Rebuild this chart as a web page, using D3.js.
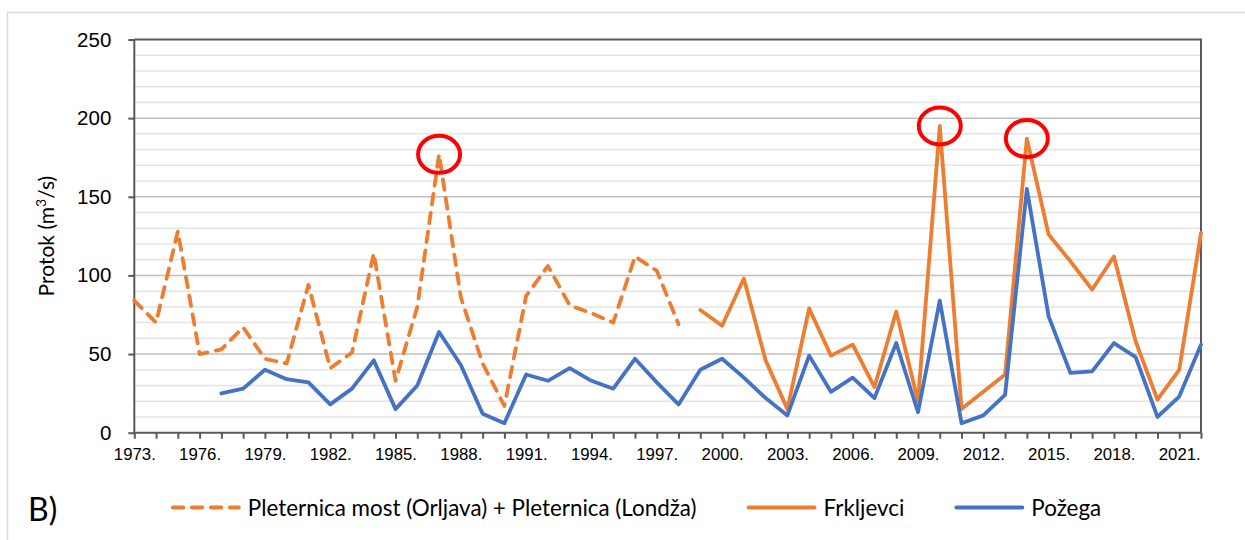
<!DOCTYPE html>
<html>
<head>
<meta charset="utf-8">
<script src="https://cdn.jsdelivr.net/npm/d3@7"></script>
<style>
    body { margin: 0; background: #fff; }
    svg { display: block; font-family: Lato, "Open Sans", sans-serif; }
</style>
</head>
<body>
<svg id="chart" width="1245" height="540"></svg>
<script>
"use strict"

// categories: one per year, 1973. - 2022.
const years = d3.range(1973, 2023);
const yearLabelStep = 3;
const yTicks = [0, 50, 100, 150, 200, 250];

// series values (m3/s), null where the station has no data
const pleternica = [84, 70, 128, 50, 53, 67, 47, 44, 94, 41, 51, 114, 33, 80, 177, 86, 44, 17, 87, 106,
    81, 76, 70, 112, 103, 69, null, null, null, null, null, null, null, null, null, null, null, null, null, null,
    null, null, null, null, null, null, null, null, null, null];
const frkljevci = [null, null, null, null, null, null, null, null, null, null, null, null, null, null, null, null, null, null, null, null,
    null, null, null, null, null, null, 78, 68, 98, 46, 15, 79, 49, 56, 29, 77, 20, 195, 15, 26,
    37, 187, 126, 109, 91, 112, 58, 21, 40, 127];
const pozega = [null, null, null, null, 25, 28, 40, 34, 32, 18, 28, 46, 15, 30, 64, 43, 12, 6, 37, 33,
    41, 33, 28, 47, 32, 18, 40, 47, 35, 22, 11, 49, 26, 35, 22, 57, 13, 84, 6, 11,
    24, 155, 74, 38, 39, 57, 48, 10, 23, 56];

const seriesNames = ["Pleternica most (Orljava) + Pleternica (Londža)", "Frkljevci", "Požega"];
const highlightYears = [1987, 2010, 2014];

//-----------------------------SETUP----------------------------//
const series = [
    { name: seriesNames[0], values: pleternica, color: "#ED7D31", dash: "10.5,8.5" },
    { name: seriesNames[1], values: frkljevci, color: "#ED7D31", dash: null },
    { name: seriesNames[2], values: pozega, color: "#4472C4", dash: null }
];

const plot = { left: 134.3, right: 1201, top: 39.5, bottom: 432.7 };
const svg = d3.select("#chart");

// outer chart border (continues past the right and bottom edge)
svg.append("rect")
    .attr("x", 7.5).attr("y", 12.5)
    .attr("width", 1300).attr("height", 600)
    .attr("fill", "#fff")
    .attr("stroke", "#D9D9D9")
    .attr("stroke-width", 1.5);

//----------------------------SCALES----------------------------//
const xScale = d3.scalePoint().domain(years).range([plot.left, plot.right]);
const yScale = d3.scaleLinear().domain([0, 250]).range([plot.bottom, plot.top]);

//---------------------------GRIDLINES--------------------------//
const minor = d3.range(10, 250, 10).filter(v => v % 50 !== 0);
svg.append("g").selectAll("line")
    .data(minor)
    .join("line")
    .attr("x1", plot.left).attr("x2", plot.right)
    .attr("y1", d => yScale(d)).attr("y2", d => yScale(d))
    .attr("stroke", "#E4E4E4")
    .attr("stroke-width", 1.5);

svg.append("g").selectAll("line")
    .data(yTicks.filter(v => v > 0 && v < 250))
    .join("line")
    .attr("x1", plot.left).attr("x2", plot.right)
    .attr("y1", d => yScale(d)).attr("y2", d => yScale(d))
    .attr("stroke", "#BFBFBF")
    .attr("stroke-width", 1.5);

// plot area frame (top + right)
svg.append("path")
    .attr("d", `M${plot.left},${yScale(250)}H${plot.right}V${plot.bottom}`)
    .attr("fill", "none")
    .attr("stroke", "#595959")
    .attr("stroke-width", 2);

//-----------------------------AXES-----------------------------//
const xaxis = d3.axisBottom(xScale)
    .tickSize(6)
    .tickPadding(9)
    .tickFormat(d => ((d - years[0]) % yearLabelStep === 0 ? d + "." : ""));

const yaxis = d3.axisLeft(yScale)
    .tickValues(yTicks)
    .tickSize(6)
    .tickPadding(17);

const xaxisEl = svg.append("g")
    .attr("transform", `translate(0,${plot.bottom})`)
    .call(xaxis);
xaxisEl.select(".domain").attr("d", `M${plot.left},0H${plot.right}`);
xaxisEl.selectAll("line").attr("stroke", "#595959").attr("stroke-width", 2);
xaxisEl.select(".domain").attr("stroke", "#595959").attr("stroke-width", 2);
xaxisEl.selectAll("text")
    .attr("fill", "#000")
    .style("font-size", "16.8px");

const yaxisEl = svg.append("g")
    .attr("transform", `translate(${plot.left},0)`)
    .call(yaxis);
yaxisEl.select(".domain").attr("d", `M0,${plot.top}V${plot.bottom}`);
yaxisEl.selectAll("line").attr("stroke", "#595959").attr("stroke-width", 2);
yaxisEl.select(".domain").attr("stroke", "#595959").attr("stroke-width", 2);
yaxisEl.selectAll("text")
    .attr("fill", "#000")
    .style("font-size", "20.5px");

// y axis title
const title = svg.append("text")
    .attr("transform", `translate(54,${(plot.top + plot.bottom) / 2}) rotate(-90)`)
    .attr("text-anchor", "middle")
    .attr("fill", "#000")
    .style("font-size", "21px");
title.append("tspan").text("Protok (m");
title.append("tspan").attr("dy", -8).style("font-size", "14px").text("3");
title.append("tspan").attr("dy", 8).text("/s)");

//-----------------------------LINES----------------------------//
const line = d3.line()
    .defined(d => d.v != null)
    .x(d => xScale(d.year))
    .y(d => yScale(d.v));

series.forEach(s => {
    svg.append("path")
        .datum(years.map((year, i) => ({ year, v: s.values[i] })))
        .attr("d", line)
        .attr("fill", "none")
        .attr("stroke", s.color)
        .attr("stroke-width", 3.8)
        .attr("stroke-linejoin", "round")
        .attr("stroke-linecap", "round")
        .attr("stroke-dasharray", s.dash);
});

// red rings around the three peaks
svg.append("g").selectAll("ellipse")
    .data(highlightYears)
    .join("ellipse")
    .attr("cx", d => xScale(d))
    .attr("cy", d => {
        const i = years.indexOf(d);
        return yScale(d3.max(series, s => s.values[i]));
    })
    .attr("rx", 21)
    .attr("ry", 18.5)
    .attr("fill", "none")
    .attr("stroke", "#FF0000")
    .attr("stroke-width", 4);

//----------------------------LEGEND----------------------------//
svg.append("text")
    .attr("x", 28).attr("y", 521)
    .attr("fill", "#000")
    .style("font-size", "32px")
    .text("B)");

const legendY = 507.5;
const legend = svg.append("g");
let lx = 0;
series.forEach((s, i) => {
    const item = legend.append("g").attr("transform", `translate(${lx},0)`);
    item.append("line")
        .attr("x1", 2).attr("x2", 68)
        .attr("y1", legendY).attr("y2", legendY)
        .attr("stroke", s.color)
        .attr("stroke-width", 3.8)
        .attr("stroke-linecap", "round")
        .attr("stroke-dasharray", s.dash);
    const t = item.append("text")
        .attr("x", 77).attr("y", legendY + 8)
        .attr("fill", "#000")
        .style("font-size", "22.4px")
        .text(s.name);
    lx += 77 + t.node().getComputedTextLength() + 50;
});
const legendWidth = lx - 50;
legend.attr("transform", `translate(${636 - legendWidth / 2},0)`);
</script>
</body>
</html>
